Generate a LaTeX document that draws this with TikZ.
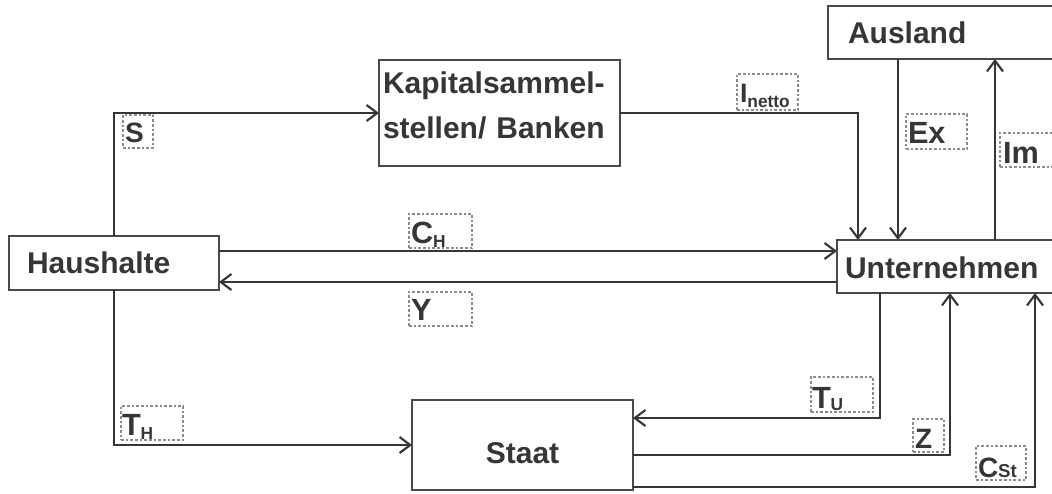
\documentclass[tikz,border=0pt]{standalone}
\usepackage{fontspec}
\setmainfont{Liberation Sans}
\usetikzlibrary{arrows.meta,calc}

% one drawing unit = one pixel of the layout grid
\newdimen\pxu \pxu=0.75pt

\definecolor{ink}{HTML}{363636}
\definecolor{frame}{HTML}{4A4A4A}
\definecolor{tagline}{HTML}{8C8C8C}

\tikzset{
  flow/.style={draw=ink, line width=2.1pt,
    -{Straight Barb[length=8pt,width=12pt,line width=1.6pt]}},
  agent/.style={draw=frame, line width=1.2pt, fill=white, text=ink, align=left,
    font=\bfseries\fontsize{22.5pt}{33.75pt}\selectfont},
  tag/.style={draw=tagline, line width=0.8pt, dash pattern=on 2pt off 1.5pt,
    text=ink, align=left, font=\bfseries\fontsize{23pt}{26pt}\selectfont},
  smalltag/.style={tag, font=\bfseries\fontsize{21pt}{24pt}\selectfont},
}

% #1 style, #2 name, #3-#6 box corners (x0,y0,x1,y1), #7 text start x, #8 baseline y, #9 text
\newcommand\boxat[9]{%
  \node[#1, anchor=north west, outer sep=0pt, inner ysep=0pt,
        inner xsep={(#7-#3)*\pxu},
        text width={(#5-#3-2*(#7-#3))*\pxu},
        text height={(#8-#4)*\pxu},
        text depth={(#6-#8)*\pxu}] (#2) at (#3,#4) {#9};}

\newcommand\lowsub[3]{#1\raisebox{-#2}{\fontsize{13pt}{13pt}\selectfont #3}}

\begin{document}
\begin{tikzpicture}[x=\pxu, y=-\pxu]
  \useasboundingbox (0,0) rectangle (1052,493);
  \clip (0,0) rectangle (1052,493);
  \fill[white] (0,0) rectangle (1052,493);

  % sectors
  \boxat{agent}{haus}{9}{236}{219}{290}{27}{273}{Haushalte}
  \boxat{agent}{kap}{379}{60}{620}{166}{383}{93}{Kapitalsammel-\\stellen/ Banken}
  \boxat{agent}{aus}{828}{6}{1070}{59}{848}{43}{Ausland}
  \boxat{agent}{unt}{837}{240}{1070}{293}{845}{278}{Unternehmen}
  \boxat{agent, align=center}{staat}{412}{400}{633}{490}{420}{463}{Staat}

  % flows
  \draw[flow] (haus.north) |- (kap.west);
  \draw[flow] (kap.east) -| ($(unt.north west)+(21,0)$);
  \coordinate (exTop) at ($(aus.south west)+(70,0)$);
  \draw[flow] (exTop) -- (exTop |- unt.north);
  \coordinate (imBot) at ($(unt.north west)+(158,0)$);
  \draw[flow] (imBot) -- (imBot |- aus.south);
  \draw[flow] (haus.east |- {(0,251)}) -- (unt.west |- {(0,251)});
  \draw[flow] (unt.west |- {(0,282)}) -- (haus.east |- {(0,282)});
  \draw[flow] (haus.south) |- (staat.west);
  \draw[flow] ($(unt.south west)+(43,0)$) |- (staat.east |- {(0,418)});
  \draw[flow] (staat.east |- {(0,455)}) -| ($(unt.south west)+(113,0)$);
  \draw[flow] (staat.east |- {(0,487)}) -| ($(unt.south west)+(198,0)$);

  % flow labels
  \boxat{smalltag}{tS}{123}{115}{153}{148}{125}{142}{S}
  \boxat{tag, font=\bfseries\fontsize{20pt}{24pt}\selectfont}{tI}{737}{74}{798}{110}{740}{102}{\lowsub{I}{3.75pt}{netto}}
  \boxat{tag}{tEx}{906}{114}{967}{149}{908}{143}{Ex}
  \boxat{tag}{tIm}{1000}{133}{1070}{167}{1003}{163}{Im}
  \boxat{tag}{tCH}{409}{214}{472}{248}{411}{243}{\lowsub{C}{3pt}{H}}
  \boxat{tag}{tY}{409}{292}{472}{326}{411}{320}{Y}
  \boxat{tag}{tTH}{121}{406}{183}{440}{122}{435}{\lowsub{T}{3pt}{H}}
  \boxat{tag}{tTU}{811}{377}{873}{412}{812}{408}{\lowsub{T}{1.5pt}{U}}
  \boxat{smalltag}{tZ}{913}{419}{944}{452}{915}{448}{Z}
  \boxat{smalltag}{tCSt}{976}{446}{1026}{480}{978}{477}{C{\fontsize{14pt}{14pt}\selectfont St}}
\end{tikzpicture}
\end{document}
